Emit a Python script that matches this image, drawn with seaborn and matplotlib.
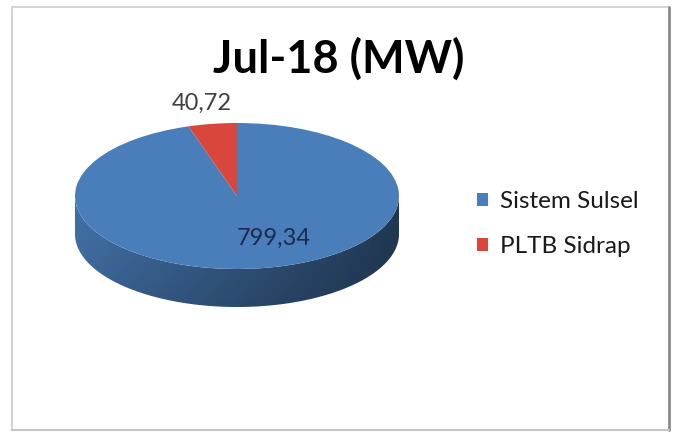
import numpy as np
import matplotlib
matplotlib.use("Agg")
import matplotlib.pyplot as plt
import seaborn as sns
from matplotlib.patches import Polygon
from matplotlib.lines import Line2D
from matplotlib.colors import to_rgb

# ---- data -------------------------------------------------------------
categories = ["Sistem Sulsel", "PLTB Sidrap"]
values_mw = [799.34, 40.72]
title_text = "Jul-18 (MW)"

# ---- style ------------------------------------------------------------
sns.set_theme(style="white")
plt.rcParams["font.family"] = ["Lato", "DejaVu Sans"]

W, H = 675, 436
fig = plt.figure(figsize=(W / 100, H / 100), dpi=100)
fig.patch.set_facecolor("white")


def fx(px):
    return px / W


def fy(py):
    return 1 - py / H


# pie geometry (pixels): centre, horizontal/vertical radius, extrusion depth
cx, cy = 237, 196
rx, ry = 162, 73
depth_px = 38
ax_l, ax_r, ax_t, ax_b = 55, 420, 105, 325

ax = fig.add_axes([fx(ax_l), fy(ax_b), (ax_r - ax_l) / W, (ax_b - ax_t) / H])
ax.axis("off")

palette = sns.color_palette(["#4a7ebb", "#d9463c"])

wedges, _ = ax.pie(
    values_mw,
    colors=palette,
    startangle=90,
    counterclock=False,
    radius=1,
    wedgeprops=dict(linewidth=0),
)
for w in wedges:
    w.set_zorder(3)

# extruded side of the disc: only the front half (180..360 deg) is visible
depth = depth_px / ry
for w, col in zip(wedges, palette):
    t1, t2 = w.theta1, w.theta2
    base = np.array(to_rgb(col))
    for k in range(-2, 2):
        a = max(t1, 180 + 360 * k)
        b = min(t2, 360 + 360 * k)
        if b <= a:
            continue
        ang = np.radians(np.linspace(a, b, 200))
        top = np.column_stack([np.cos(ang), np.sin(ang)])
        bot = np.column_stack([np.cos(ang[::-1]), np.sin(ang[::-1]) - depth])
        poly = Polygon(np.vstack([top, bot]), closed=True,
                       transform=ax.transData, facecolor="none", edgecolor="none")
        ax.add_patch(poly)
        xs = np.linspace(-1, 1, 300)
        ys = np.linspace(0, 1, 60)
        hfac = 0.88 - 0.22 * (xs + 1)
        vfac = 1.0 - 0.12 * ys ** 2
        img = base[None, None, :] * hfac[None, :, None] * vfac[:, None, None]
        im = ax.imshow(np.clip(img, 0, 1), extent=[-1, 1, -1 - depth, 0],
                       origin="upper", aspect="auto", zorder=2,
                       interpolation="bilinear")
        im.set_clip_path(poly)

ax.set_aspect("auto")
ax.set_xlim((ax_l - cx) / rx, (ax_r - cx) / rx)
ax.set_ylim(-(ax_b - cy) / ry, (cy - ax_t) / ry)

# value labels
label_pos = [(0.225, -0.58), (-0.22, 1.27)]
label_colors = ["#1b2b4d", "#404040"]
for v, (lx, ly), lc in zip(values_mw, label_pos, label_colors):
    ax.text(lx, ly, f"{v:.2f}".replace(".", ","), ha="center", va="center",
            fontsize=17, color=lc, zorder=5)

# title
fig.text(fx(339), fy(73), title_text, ha="center", va="baseline",
         fontsize=32.5, fontweight="bold", color="black")

# legend
fig.legend(wedges, categories, loc="center left",
           bbox_to_anchor=(fx(477), fy(224)), frameon=False,
           fontsize=17.5, handlelength=0.45, handleheight=0.45,
           handletextpad=0.5, labelspacing=1.0, borderpad=0,
           borderaxespad=0, labelcolor="#1a1a1a")

# chart-area frame
fig.add_artist(Line2D([fx(11.5), fx(11.5)], [fy(7), fy(430)], color="#d4d4d4", lw=1.5))
fig.add_artist(Line2D([fx(11.5), fx(669)], [fy(7), fy(7)], color="#d4d4d4", lw=1.5))
fig.add_artist(Line2D([fx(669), fx(669)], [fy(7), fy(430)], color="#8a8a8a", lw=2))
fig.add_artist(Line2D([fx(11.5), fx(669)], [fy(430), fy(430)], color="#c4c4c4", lw=1.5))

fig.savefig("out.png", dpi=100, facecolor="white")
